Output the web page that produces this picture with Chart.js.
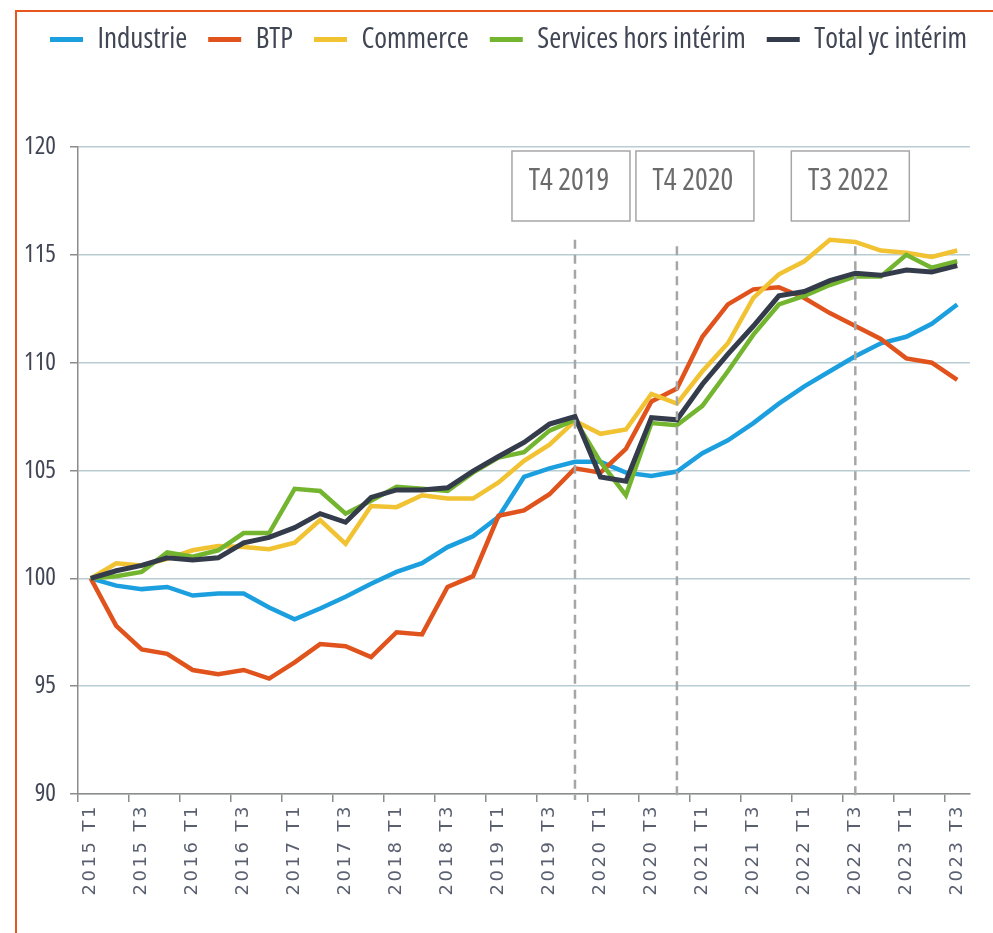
<!DOCTYPE html>
<html>
<head>
<meta charset="utf-8">
<script src="https://cdn.jsdelivr.net/npm/chart.js@4.4.1/dist/chart.umd.min.js"></script>
<style>
  html, body { margin: 0; padding: 0; background: #fff; }
  #wrap { position: relative; width: 993px; height: 933px; overflow: hidden; }
  #frame { position: absolute; left: 15px; top: 10px; width: 1100px; height: 1100px;
           border-left: 2px solid #e8561f; border-top: 2px solid #e8561f; pointer-events: none; }
  canvas { position: absolute; left: 0; top: 0; }
</style>
</head>
<body>
<div id="wrap">
  <canvas id="chart" width="993" height="933"></canvas>
  <div id="frame"></div>
</div>
<script>
// trimestres 2015 T1 -> 2023 T3
const quarters = [
  '2015 T1','2015 T2','2015 T3','2015 T4',
  '2016 T1','2016 T2','2016 T3','2016 T4',
  '2017 T1','2017 T2','2017 T3','2017 T4',
  '2018 T1','2018 T2','2018 T3','2018 T4',
  '2019 T1','2019 T2','2019 T3','2019 T4',
  '2020 T1','2020 T2','2020 T3','2020 T4',
  '2021 T1','2021 T2','2021 T3','2021 T4',
  '2022 T1','2022 T2','2022 T3','2022 T4',
  '2023 T1','2023 T2','2023 T3'
];

const industrie = [100, 99.66, 99.5, 99.6, 99.2, 99.3, 99.3, 98.65, 98.1, 98.6,
  99.15, 99.75, 100.3, 100.7, 101.45, 101.95, 102.85, 104.7, 105.1, 105.4,
  105.4, 104.9, 104.75, 104.95, 105.8, 106.4, 107.2, 108.1, 108.9, 109.6,
  110.3, 110.9, 111.2, 111.8, 112.7];

const btp = [100, 97.8, 96.7, 96.5, 95.75, 95.55, 95.75, 95.35, 96.1, 96.95,
  96.85, 96.35, 97.5, 97.4, 99.6, 100.1, 102.9, 103.15, 103.9, 105.1,
  104.9, 106.0, 108.2, 108.8, 111.2, 112.7, 113.4, 113.5, 113.0, 112.3,
  111.7, 111.1, 110.2, 110.0, 109.2];

const commerce = [100, 100.7, 100.6, 100.9, 101.3, 101.5, 101.45, 101.35, 101.65, 102.7,
  101.6, 103.35, 103.3, 103.85, 103.7, 103.7, 104.45, 105.45, 106.2, 107.3,
  106.7, 106.9, 108.55, 108.1, 109.6, 110.9, 113.0, 114.1, 114.7, 115.7,
  115.6, 115.2, 115.1, 114.9, 115.2];

const services = [100, 100.1, 100.3, 101.2, 101.0, 101.3, 102.1, 102.1, 104.15, 104.05,
  103.0, 103.6, 104.25, 104.15, 104.05, 104.9, 105.6, 105.85, 106.85, 107.35,
  105.4, 103.85, 107.2, 107.1, 108.0, 109.6, 111.3, 112.7, 113.1, 113.6,
  114.0, 114.0, 115.0, 114.4, 114.7];

const total = [100, 100.35, 100.6, 100.95, 100.85, 100.95, 101.65, 101.9, 102.35, 103.0,
  102.6, 103.75, 104.1, 104.1, 104.2, 104.97, 105.65, 106.3, 107.15, 107.5,
  104.7, 104.5, 107.45, 107.35, 109.0, 110.4, 111.7, 113.1, 113.3, 113.8,
  114.15, 114.05, 114.3, 114.2, 114.5];

// repères verticaux (index du trimestre, libellé, haut du trait)
const markerIdx = [19, 23, 30];
const markerText = ['T4 2019', 'T4 2020', 'T3 2022'];
const markerTop = [115.7, 115.4, 115.4];

// police étroite (Open Sans variable, axe wdth)
const NARROW = "'Open Sans'";
const TXT = '#404654';

function serie(label, data, color, width, order) {
  return {
    label: label, data: data,
    borderColor: color, backgroundColor: color,
    borderWidth: width, pointRadius: 0, tension: 0, order: order
  };
}

// boites + pointillés
const markersPlugin = {
  id: 'markers',
  afterDatasetsDraw(chart) {
    const { ctx, chartArea, scales: { x, y } } = chart;
    const shift = [-4, 18, -5];
    ctx.save();
    markerIdx.forEach((idx, k) => {
      const px = x.getPixelForValue(idx);
      ctx.strokeStyle = '#a6a6a6';
      ctx.lineWidth = 2.5;
      ctx.setLineDash([9, 6]);
      ctx.beginPath();
      ctx.moveTo(px, y.getPixelForValue(markerTop[k]));
      ctx.lineTo(px, chartArea.bottom + 6);
      ctx.stroke();

      const cx = px + shift[k], w = 118, h = 70, top = chartArea.top + 4;
      ctx.setLineDash([]);
      ctx.lineWidth = 1.5;
      ctx.fillStyle = '#fff';
      ctx.fillRect(cx - w / 2, top, w, h);
      ctx.strokeRect(cx - w / 2, top, w, h);
      ctx.fillStyle = '#6b6b6b';
      ctx.font = 'condensed 30px ' + NARROW;
      ctx.textAlign = 'center';
      ctx.textBaseline = 'middle';
      ctx.fillText(markerText[k], cx - 2, top + 30);
    });
    ctx.restore();
    // les libellés de l'axe X (ticks.z = 1) sont dessinés juste après : lettres espacées
    ctx.letterSpacing = '2.5px';
  },
  afterDraw(chart) {
    chart.ctx.letterSpacing = '0px';
  }
};

// légende sur une seule ligne, place réservée dessous
const legendSpace = {
  id: 'legendSpace',
  afterInit(chart) {
    const lg = chart.legend;
    const fit = lg.fit;
    lg.fit = function () {
      this.maxWidth = 1300;
      fit.bind(lg)();
      this.height = 143;
    };
    const draw = lg.draw;
    lg.draw = function () {
      const right = this.right;
      this.right = 1300;
      chart.ctx.save();
      chart.ctx.translate(11, 0);
      draw.bind(lg)();
      chart.ctx.restore();
      this.right = right;
    };
  }
};

new Chart(document.getElementById('chart'), {
  type: 'line',
  data: {
    labels: quarters,
    datasets: [
      serie('Industrie', industrie, '#1b9fdf', 4.5, 5),
      serie('BTP', btp, '#e1531d', 4.5, 4),
      serie('Commerce', commerce, '#f1c232', 4.5, 3),
      serie('Services hors intérim', services, '#73b52f', 4.5, 2),
      serie('Total yc intérim', total, '#343c4c', 5, 1)
    ]
  },
  options: {
    responsive: false,
    animation: false,
    layout: { padding: { left: 18, right: 23, top: 4, bottom: 0 } },
    plugins: {
      tooltip: { enabled: false },
      legend: {
        position: 'top',
        align: 'start',
        labels: {
          boxWidth: 33, boxHeight: 5, padding: 21,
          color: TXT,
          font: { family: NARROW, size: 29, weight: 'condensed' },
          sort: (a, b) => a.datasetIndex - b.datasetIndex,
          generateLabels: chart => Chart.defaults.plugins.legend.labels.generateLabels(chart)
            .map(l => ({ ...l, lineWidth: 0, fillStyle: l.strokeStyle }))
        }
      }
    },
    scales: {
      x: {
        offset: true,
        grid: {
          offset: true, drawOnChartArea: false, tickLength: 8, lineWidth: 1.5,
          tickColor: ctx => (ctx.index % 2 === 0 ? '#8c8c8c' : 'rgba(0,0,0,0)')
        },
        border: { color: '#8c8c8c', width: 1.5 },
        ticks: {
          z: 1,
          autoSkip: false, minRotation: 90, maxRotation: 90, padding: 2,
          color: '#5a6070',
          font: { family: "'DejaVu Sans'", size: 18 },
          callback: (v, i) => (i % 2 === 0 ? quarters[i] : '')
        },
        afterFit: s => { s.height = 139; }
      },
      y: {
        min: 90, max: 120,
        grid: { color: '#b7cdd3', lineWidth: 1.5, tickLength: 8, tickColor: '#8c8c8c' },
        border: { color: '#8c8c8c', width: 1.5 },
        ticks: {
          stepSize: 5, padding: 14, color: TXT,
          font: { family: NARROW, size: 25, weight: 'condensed' }
        },
        afterFit: s => { s.width = 60; }
      }
    }
  },
  plugins: [markersPlugin, legendSpace]
});
</script>
</body>
</html>
